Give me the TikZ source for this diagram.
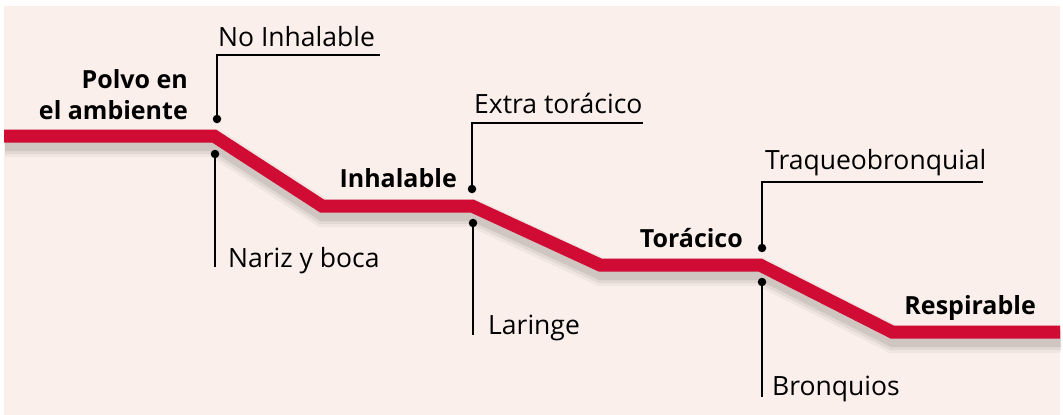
\documentclass[tikz,border=0pt]{standalone}
\usepackage{fontspec}
\setmainfont{Open Sans}
\definecolor{fondo}{RGB}{250,239,235}
\definecolor{rojo}{RGB}{208,12,52}
\tikzset{
  etiqueta/.style={font=\fontsize{26.5}{28}\selectfont, inner sep=0pt, anchor=base west},
  etapa/.style={font=\fontsize{25}{31}\selectfont\bfseries, inner sep=0pt, anchor=base east},
  punto/.style={circle, fill=black, inner sep=0pt, minimum size=8.5pt},
  guia/.style={line width=2pt},
}
\begin{document}
\begin{tikzpicture}[x=1pt,y=-1pt]
        \useasboundingbox (0,0) rectangle (1063,415);
        % Fondo
        \fill[fondo] (4,6) rectangle (1060,415);

        % Sombra
        \foreach \w/\o in {28/0.04,22/0.06,16/0.08}
          \draw[black, opacity=\o, line width=\w pt, line join=miter, shift={(1,7)}] (4,136) -- (214,136) -- (322,206) -- (472,206) -- (600,265) -- (760,265) -- (892,332) -- (1060,332);

        % Linea
        \draw[rojo, line width=13pt, line join=miter] (4,136) -- (214,136) -- (322,206) -- (472,206) -- (600,265) -- (760,265) -- (892,332) -- (1060,332);

        % Etapas
        \node[etapa] (polvo) at (188,88) {Polvo en};
        \node[etapa] (ambiente) at (188,119) {el ambiente};
        \node[etapa] (inhalable) at (457,187) {Inhalable};
        \node[etapa] (toracico) at (743,247) {Torácico};
        \node[etapa] (respirable) at (1036,314) {Respirable};

        % Puntos
        \node[punto] (p1) at (217,119) {};
        \node[punto] (q1) at (215,154) {};
        \node[punto] (p2) at (472,189) {};
        \node[punto] (q2) at (473,223) {};
        \node[punto] (p3) at (762,248) {};
        \node[punto] (q3) at (762,282) {};

        % Guias
        \coordinate (a1) at (380,55);
        \coordinate (b1) at (215,267);
        \coordinate (a2) at (643,123);
        \coordinate (b2) at (473,335);
        \coordinate (a3) at (983,182);
        \coordinate (b3) at (762,397);
        \draw[guia] (p1.center) |- (a1);
        \draw[guia] (q1.center) -- (b1);
        \draw[guia] (p2.center) |- (a2);
        \draw[guia] (q2.center) -- (b2);
        \draw[guia] (p3.center) |- (a3);
        \draw[guia] (q3.center) -- (b3);

        % Textos
        \node[etiqueta] (noinh) at (218,46) {No Inhalable};
        \node[etiqueta] (nariz) at (228,267) {Nariz y boca};
        \node[etiqueta] (extra) at (474,113) {Extra torácico};
        \node[etiqueta] (laringe) at (488,334) {Laringe};
        \node[etiqueta] (traqueo) at (765,169) {Traqueobronquial};
        \node[etiqueta] (bronquios) at (772,395) {Bronquios};
\end{tikzpicture}
\end{document}
